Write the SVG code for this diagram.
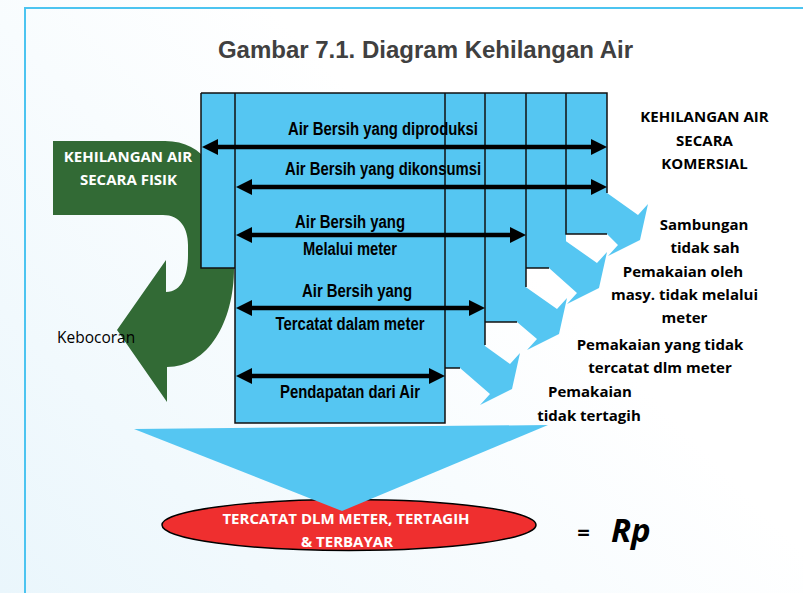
<svg xmlns="http://www.w3.org/2000/svg" width="803" height="593" viewBox="0 0 803 593">
  <defs>
    <linearGradient id="bg" gradientUnits="userSpaceOnUse" x1="0" y1="593" x2="430" y2="170">
      <stop offset="0" stop-color="#eaf6fc"/>
      <stop offset="1" stop-color="#ffffff"/>
    </linearGradient>
    <marker id="ah" viewBox="0 0 16 16" refX="2" refY="8" markerWidth="16" markerHeight="16" markerUnits="userSpaceOnUse" orient="auto-start-reverse">
      <path d="M0,0 L16,8 L0,16 Z" fill="#000"/>
    </marker>
    <style>
      .blue { fill: #55c6f2; stroke: none; }
      .edge { fill: none; stroke: #111; stroke-width: 1.5; }
      .flow { stroke: #000; stroke-width: 4.5; fill: none; marker-start: url(#ah); marker-end: url(#ah); }
      .lbl { font-family: "Liberation Sans Narrow", "Liberation Sans", Arial, sans-serif; font-weight: bold; font-size: 18px; fill: #000; text-anchor: middle; }
      .side { font-family: "Open Sans", "Noto Sans", sans-serif; font-weight: bold; font-size: 15px; fill: #000; text-anchor: middle; }
      .white { font-family: "Open Sans", "Noto Sans", sans-serif; font-weight: bold; font-size: 15px; fill: #fff; text-anchor: middle; }
    </style>
  </defs>

  <!-- background and frame -->
  <rect x="0" y="0" width="803" height="593" fill="url(#bg)"/>
  <path d="M25,593 V8 H803" fill="none" stroke="#4cc4f0" stroke-width="2"/>

  <text x="425.5" y="58" font-family="Liberation Sans, Arial, sans-serif" font-weight="bold" font-size="24" fill="#404040" text-anchor="middle">Gambar 7.1. Diagram Kehilangan Air</text>

  <!-- physical loss curved arrow -->
  <g id="node-fisik">
    <path d="M53,141 L165,141 C185,141 200,150 208,162 L234,205 L234,268 C234,322 208,367 167,367 L167,402 L117,330 L166,260 L166,292 C182,292 188,275 188,255 L188,245 C188,228 180,215 163,215 L53,215 Z" fill="#326a35"/>
    <text class="white" x="128" y="162">KEHILANGAN AIR</text>
    <text class="white" x="128.5" y="185">SECARA FISIK</text>
  </g>

  <g id="node-kebocoran">
    <text x="57" y="343" font-family="Open Sans, Noto Sans, sans-serif" font-weight="500" font-size="15.5" fill="#000">Kebocoran</text>
  </g>

  <!-- result ellipse -->
  <g id="node-hasil">
    <ellipse cx="349" cy="525" rx="187" ry="25.5" fill="#ef2f2f" stroke="#000" stroke-width="1.5"/>
  </g>

  <!-- big downward arrow -->
  <polygon id="arrow-down" class="blue" points="134,429 548,425 342,511"/>

  <g id="node-hasil-text">
    <text class="white" x="346" y="524" font-size="15.7">TERCATAT DLM METER, TERTAGIH</text>
    <text class="white" x="347" y="547" font-size="15.7">&amp; TERBAYAR</text>
  </g>

  <g id="node-rp">
    <text x="583.5" y="540" font-family="Open Sans, Noto Sans, sans-serif" font-weight="bold" font-size="22" fill="#000" text-anchor="middle">=</text>
    <text x="611" y="542" font-family="Open Sans, Noto Sans, sans-serif" font-weight="bold" font-style="italic" font-size="33" fill="#000">Rp</text>
  </g>

  <!-- staircase of water volumes -->
  <g id="staircase">
    <rect class="blue" x="201" y="93" width="34" height="175"/>
    <rect class="blue" x="235" y="93" width="210" height="330"/>
    <rect class="blue" x="445" y="93" width="40" height="275"/>
    <rect class="blue" x="485" y="93" width="41" height="229"/>
    <rect class="blue" x="526" y="93" width="40" height="175"/>
    <rect class="blue" x="566" y="93" width="41" height="141"/>
  </g>

  <!-- commercial loss arrows -->
  <g id="loss-arrows">
    <polygon class="blue" points="600,188 638,215 648,204 640,240 608,256 618,245 607,234 600,234"/>
    <polygon class="blue" points="560,237 597,263 607,252 599,288 567,304 577,293 549,268 549,237"/>
    <polygon class="blue" points="520,283 557,309 567,298 559,334 527,350 537,339 517,322 510,322 510,283"/>
    <polygon class="blue" points="478,341 510,364 520,353 512,389 480,405 490,394 460,368 455,368 455,341"/>
  </g>

  <g id="staircase-edges">
    <path class="edge" d="M201,93 H607 V193"/>
    <path class="edge" d="M201,93 V268 H235"/>
    <path class="edge" d="M235,93 V423 H445 V93"/>
    <path class="edge" d="M445,368 H460"/>
    <path class="edge" d="M485,93 V345"/>
    <path class="edge" d="M485,322 H517"/>
    <path class="edge" d="M526,93 V287"/>
    <path class="edge" d="M526,268 H549"/>
    <path class="edge" d="M566,93 V234 H607"/>
  </g>

  <!-- connectors -->
  <g id="connectors">
    <line class="flow" x1="216" y1="147" x2="593" y2="147"/>
    <line class="flow" x1="250" y1="187" x2="593" y2="187"/>
    <line class="flow" x1="250" y1="235" x2="512" y2="235"/>
    <line class="flow" x1="250" y1="308" x2="471" y2="308"/>
    <line class="flow" x1="250" y1="376" x2="431" y2="376"/>
  </g>

  <g id="label-produksi">
    <text class="lbl" x="383" y="135" textLength="190" lengthAdjust="spacingAndGlyphs">Air Bersih yang diproduksi</text>
  </g>
  <g id="label-dikonsumsi">
    <text class="lbl" x="383" y="175" textLength="196" lengthAdjust="spacingAndGlyphs">Air Bersih yang dikonsumsi</text>
  </g>
  <g id="label-melalui-meter">
    <text class="lbl" x="350" y="228" textLength="110" lengthAdjust="spacingAndGlyphs">Air Bersih yang</text>
    <text class="lbl" x="350" y="255" textLength="94" lengthAdjust="spacingAndGlyphs">Melalui meter</text>
  </g>
  <g id="label-tercatat">
    <text class="lbl" x="357" y="297" textLength="110" lengthAdjust="spacingAndGlyphs">Air Bersih yang</text>
    <text class="lbl" x="350" y="330" textLength="149" lengthAdjust="spacingAndGlyphs">Tercatat dalam meter</text>
  </g>
  <g id="label-pendapatan">
    <text class="lbl" x="350" y="398" textLength="140" lengthAdjust="spacingAndGlyphs">Pendapatan dari Air</text>
  </g>

  <g id="node-komersial">
    <text class="side" x="704.5" y="122">KEHILANGAN AIR</text>
    <text class="side" x="704.5" y="146">SECARA</text>
    <text class="side" x="704.5" y="169">KOMERSIAL</text>
  </g>
  <g id="node-sambungan">
    <text class="side" x="704" y="230">Sambungan</text>
    <text class="side" x="705" y="253">tidak sah</text>
  </g>
  <g id="node-tanpa-meter">
    <text class="side" x="683" y="277">Pemakaian oleh</text>
    <text class="side" x="684.5" y="300">masy. tidak melalui</text>
    <text class="side" x="684.5" y="323">meter</text>
  </g>
  <g id="node-tidak-tercatat">
    <text class="side" x="660" y="350">Pemakaian yang tidak</text>
    <text class="side" x="660" y="373">tercatat dlm meter</text>
  </g>
  <g id="node-tidak-tertagih">
    <text class="side" x="590" y="397">Pemakaian</text>
    <text class="side" x="589" y="421">tidak tertagih</text>
  </g>
</svg>
